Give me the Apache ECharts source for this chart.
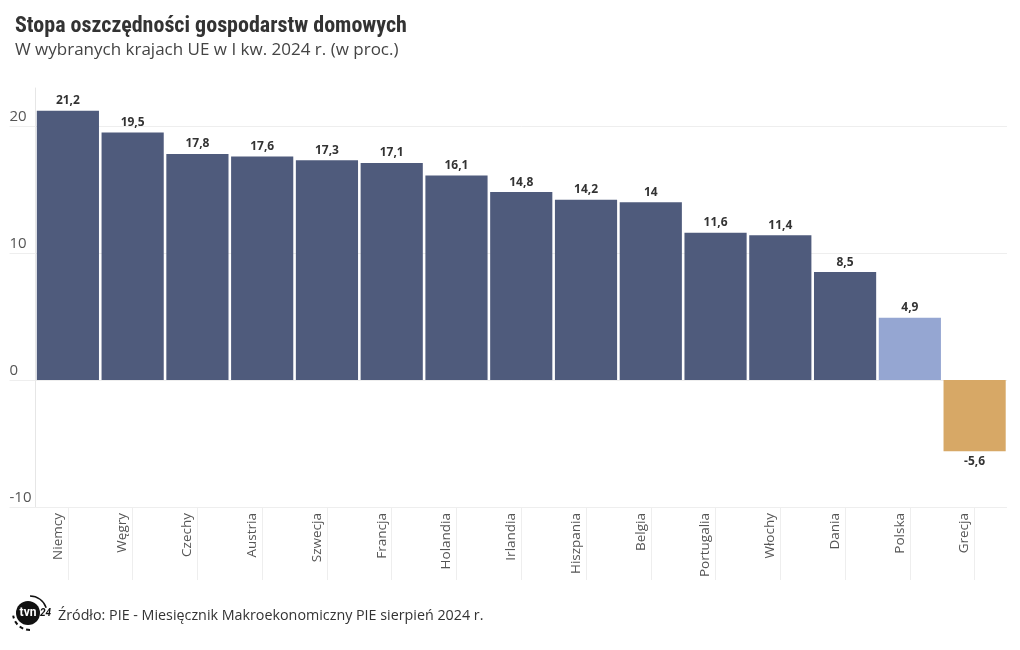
<!DOCTYPE html>
<html>
<head>
<meta charset="utf-8">
<script src="https://cdn.jsdelivr.net/npm/echarts@6/dist/echarts.min.js"></script>
<style>
html,body{margin:0;padding:0;background:#fff;}
#c{width:1020px;height:650px;}
</style>
</head>
<body>
<div id="c"></div>
<script>
const categories = ['Niemcy','Węgry','Czechy','Austria','Szwecja','Francja','Holandia','Irlandia','Hiszpania','Belgia','Portugalia','Włochy','Dania','Polska','Grecja'];
const values = [21.2,19.5,17.8,17.6,17.3,17.1,16.1,14.8,14.2,14,11.6,11.4,8.5,4.9,-5.6];
const yTicks = [-10,0,10,20];

const baseColor = '#4f5b7c';
const specialColors = { 'Polska': '#95a6d2', 'Grecja': '#d7a866' };
const font = "'Open Sans', 'Noto Sans', sans-serif";

const chart = echarts.init(document.getElementById('c'), null, {renderer:'canvas'});
const data = values.map((v,i)=>({
  value: v,
  itemStyle: { color: specialColors[categories[i]] || baseColor },
  label: { position: v < 0 ? 'bottom' : 'top' }
}));

chart.setOption({
  animation:false,
  backgroundColor:'#fff',
  title:{
    text:'Stopa oszczędności gospodarstw domowych',
    subtext:'W wybranych krajach UE w I kw. 2024 r. (w proc.)',
    left:10, top:10, itemGap:5,
    textStyle:{fontFamily:"'Liberation Sans Narrow','Roboto Condensed','Roboto',sans-serif",fontWeight:'bold',fontSize:22,color:'#333'},
    subtextStyle:{fontFamily:font,fontSize:17,color:'#444'}
  },
  grid:{left:35.5,right:13,top:88,bottom:143,containLabel:false},
  xAxis:{
    type:'category',
    data:categories,
    axisLine:{show:false,onZero:false},
    axisTick:{show:true,alignWithLabel:true,length:73,lineStyle:{color:'#eeeeee'}},
    axisLabel:{rotate:90,margin:6,fontSize:13.5,color:'#555',fontFamily:font,lineHeight:20,
      formatter:v=>v+'\n '}
  },
  yAxis:{
    type:'value',
    min:yTicks[0], max:23, interval:10,
    axisLine:{show:true,lineStyle:{color:'#e6e6e6'}},
    axisTick:{show:true,length:26,lineStyle:{color:'#eeeeee'}},
    splitLine:{show:true,showMaxLine:false,lineStyle:{color:'#eeeeee'}},
    axisLabel:{showMaxLabel:false,align:'left',verticalAlign:'bottom',margin:26,padding:[0,0,2,0],fontSize:15,color:'#555',fontFamily:font}
  },
  series:[{
    type:'bar',
    data:data,
    barCategoryGap:'4%',
    label:{show:true,fontSize:12,fontWeight:'bold',color:'#333',distance:4,fontFamily:font,
      formatter:p=>String(p.value).replace('.',',')}
  }],
  graphic:[
    {type:'arc',shape:{cx:30,cy:613,r:17,startAngle:Math.PI*0.5,endAngle:Math.PI*0.95},style:{stroke:'#111',lineWidth:2,lineDash:[4,3],fill:null}},
    {type:'arc',shape:{cx:30,cy:613,r:17,startAngle:-Math.PI*0.5,endAngle:-Math.PI*0.1},style:{stroke:'#111',lineWidth:1.5,fill:null}},
    {type:'circle',shape:{cx:28,cy:613,r:12},style:{fill:'#111'}},
    {type:'text',style:{x:28,y:613,text:'tvn',fill:'#fff',font:'bold 12px Roboto, sans-serif',align:'center',verticalAlign:'middle'}},
    {type:'text',style:{x:40,y:613,text:'24',fill:'#111',font:'italic bold 10px Roboto, sans-serif',align:'left',verticalAlign:'middle'}},
    {type:'text',style:{x:58,y:616,text:'Źródło: PIE - Miesięcznik Makroekonomiczny PIE sierpień 2024 r.',fill:'#333',font:"14.3px 'Open Sans', sans-serif",verticalAlign:'middle'}}
  ]
});
</script>
</body>
</html>
